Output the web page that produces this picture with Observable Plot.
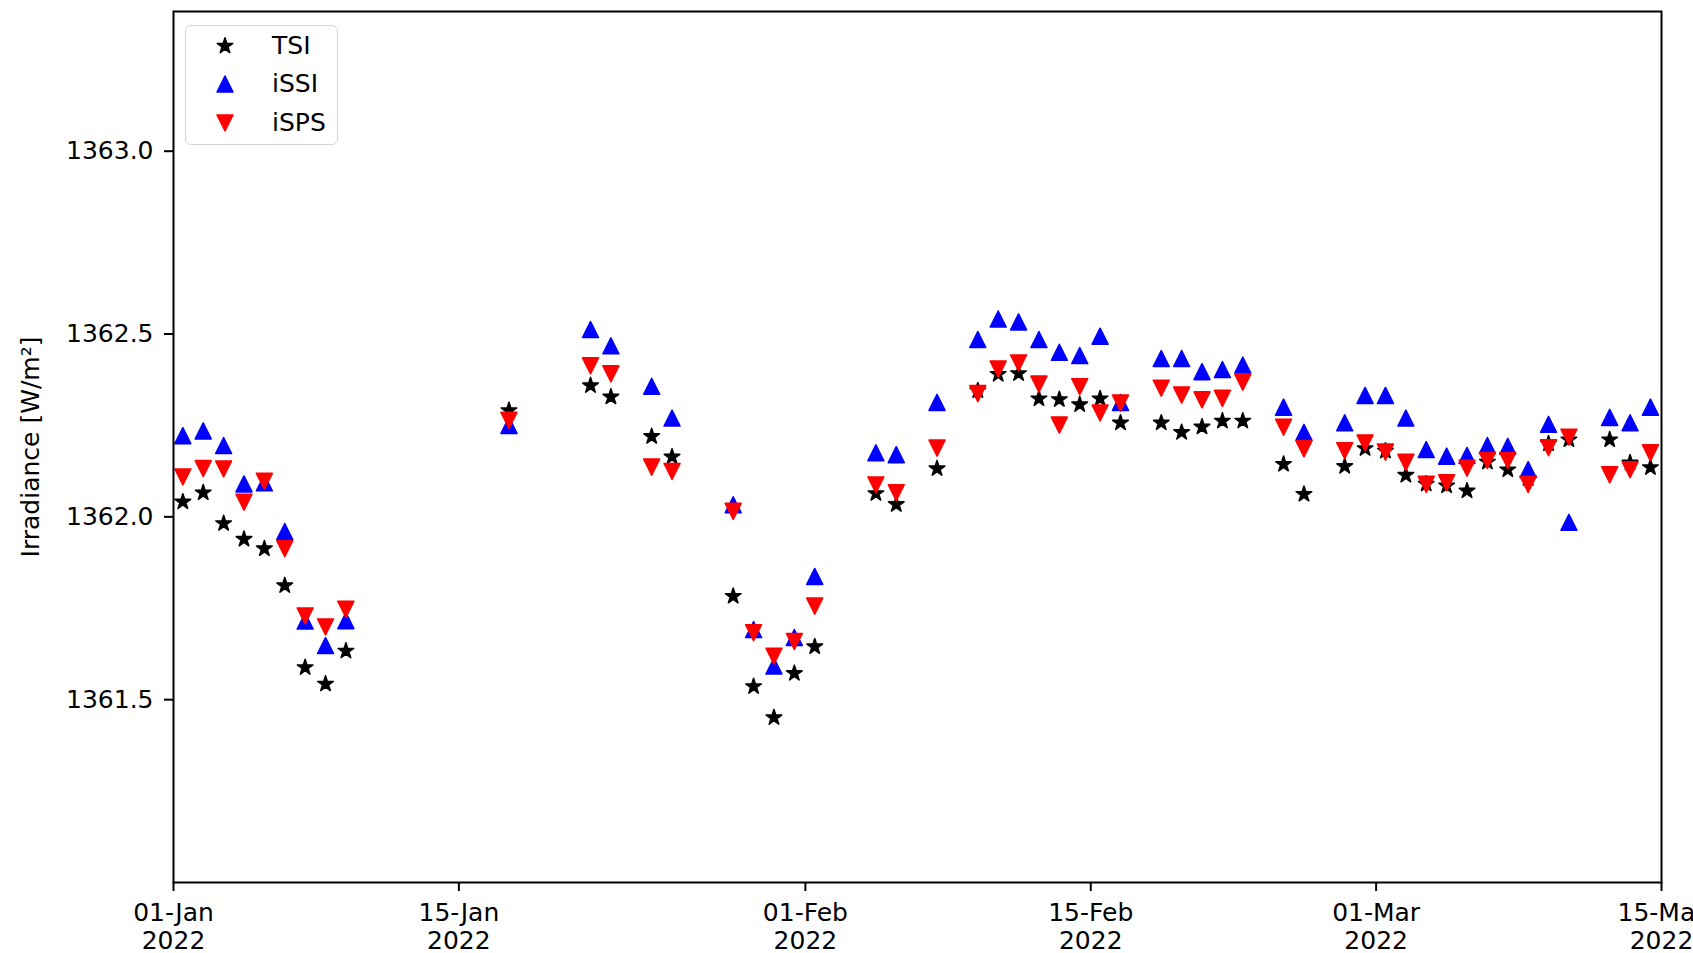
<!DOCTYPE html>
<html>
<head>
<meta charset="utf-8">
<script src="https://cdn.jsdelivr.net/npm/d3@7"></script>
<script src="https://cdn.jsdelivr.net/npm/@observablehq/plot@0.6"></script>
<style>
  html, body { margin: 0; padding: 0; background: white; overflow: hidden; }
  #wrap { position: relative; width: 1693px; height: 953px; font-family: "DejaVu Sans", sans-serif; }
  #legend { position: absolute; left: 185px; top: 25px; width: 151px; height: 118px;
    border: 1.5px solid #d4d4d4; border-radius: 6px; background: rgba(255,255,255,0.8); }
  .lg-row { position: absolute; left: 0; height: 30px; display: flex; align-items: center; }
  .lg-row svg { position: absolute; left: 28px; }
  .lg-row span { position: absolute; left: 86px; font-size: 25px; line-height: 30px; color: #000; white-space: nowrap; }
</style>
</head>
<body>
<div id="wrap"><div id="legend"></div></div>
<script>
// ---- data ----
const dates = [
  "2022-01-01","2022-01-02","2022-01-03","2022-01-04","2022-01-05","2022-01-06","2022-01-07","2022-01-08","2022-01-09",
  "2022-01-17",
  "2022-01-21","2022-01-22","2022-01-24","2022-01-25",
  "2022-01-28","2022-01-29","2022-01-30","2022-01-31","2022-02-01",
  "2022-02-04","2022-02-05","2022-02-07","2022-02-09","2022-02-10","2022-02-11","2022-02-12","2022-02-13","2022-02-14","2022-02-15","2022-02-16",
  "2022-02-18","2022-02-19","2022-02-20","2022-02-21","2022-02-22",
  "2022-02-24","2022-02-25","2022-02-27","2022-02-28","2022-03-01","2022-03-02","2022-03-03","2022-03-04","2022-03-05","2022-03-06","2022-03-07","2022-03-08","2022-03-09","2022-03-10",
  "2022-03-12","2022-03-13","2022-03-14"
];
const obsTime = "T11:00:00Z";
const tsi = [
  1362.041,1362.066,1361.982,1361.939,1361.913,1361.812,1361.588,1361.543,1361.633,
  1362.291,
  1362.359,1362.328,1362.220,1362.164,
  1361.783,1361.536,1361.451,1361.572,1361.645,
  1362.064,1362.034,1362.132,1362.345,1362.390,1362.392,1362.323,1362.321,1362.307,1362.323,1362.257,
  1362.257,1362.231,1362.246,1362.262,1362.262,
  1362.144,1362.062,1362.138,1362.187,1362.180,1362.114,1362.090,1362.085,1362.071,1362.150,1362.129,1362.105,1362.200,1362.211,
  1362.211,1362.148,1362.135
];
const issi = [
  1362.222,1362.235,1362.195,1362.090,1362.093,1361.960,1361.715,1361.648,1361.716,
  1362.250,
  1362.512,1362.468,1362.357,1362.270,
  1362.033,1361.692,1361.592,1361.670,1361.837,
  1362.175,1362.170,1362.313,1362.485,1362.541,1362.533,1362.485,1362.450,1362.441,1362.494,1362.313,
  1362.433,1362.433,1362.397,1362.403,1362.415,
  1362.300,1362.231,1362.257,1362.332,1362.332,1362.270,1362.184,1362.166,1362.168,1362.195,1362.193,1362.129,1362.253,1361.985,
  1362.272,1362.257,1362.300
];
const isps = [
  1362.109,1362.132,1362.131,1362.040,1362.097,1361.913,1361.729,1361.699,1361.747,
  1362.264,
  1362.413,1362.391,1362.136,1362.124,
  1362.015,1361.683,1361.619,1361.659,1361.756,
  1362.087,1362.066,1362.188,1362.337,1362.404,1362.421,1362.363,1362.251,1362.356,1362.284,1362.311,
  1362.352,1362.333,1362.320,1362.324,1362.368,
  1362.245,1362.186,1362.181,1362.202,1362.177,1362.149,1362.089,1362.093,1362.133,1362.154,1362.154,1362.089,1362.189,1362.218,
  1362.115,1362.129,1362.175
];
const seriesNames = ["TSI", "iSSI", "iSPS"];
const seriesColors = ["black", "blue", "red"];
const xTicks = ["2022-01-01","2022-01-15","2022-02-01","2022-02-15","2022-03-01","2022-03-15"];
const yTicks = [1361.5, 1362.0, 1362.5, 1363.0];
const yLabel = "Irradiance [W/m²]";

// ---- marker shapes (matplotlib-like) ----
const triUp = { draw(ctx, size) { const r = Math.sqrt(size / Math.PI);
  ctx.moveTo(0, -r); ctx.lineTo(r, r); ctx.lineTo(-r, r); ctx.closePath(); } };
const triDown = { draw(ctx, size) { const r = Math.sqrt(size / Math.PI);
  ctx.moveTo(0, r); ctx.lineTo(r, -r); ctx.lineTo(-r, -r); ctx.closePath(); } };
const star = { draw(ctx, size) { const R = Math.sqrt(size / Math.PI); const ri = R * 0.381966;
  for (let i = 0; i < 10; i++) { const a = -Math.PI / 2 + i * Math.PI / 5; const rr = i % 2 ? ri : R;
    const x = rr * Math.cos(a), y = rr * Math.sin(a); if (i === 0) ctx.moveTo(x, y); else ctx.lineTo(x, y); }
  ctx.closePath(); } };
const symbols = [star, triUp, triDown];
const radii = [8.2, 8, 8];

const rows = dates.map((d, i) => ({date: new Date(d + obsTime), TSI: tsi[i], iSSI: issi[i], iSPS: isps[i]}));

const dotMarks = seriesNames.map((name, k) => Plot.dot(rows, {
  x: "date", y: name, symbol: symbols[k], r: radii[k],
  fill: seriesColors[k], stroke: seriesColors[k], strokeWidth: 1.5, strokeLinejoin: "round"
}));

const chart = Plot.plot({
  width: 1693, height: 953,
  marginLeft: 173, marginRight: 32, marginTop: 11, marginBottom: 71,
  style: {fontFamily: "DejaVu Sans, sans-serif", background: "white", color: "black"},
  x: {type: "utc", domain: [new Date("2022-01-01T00:00:00Z"), new Date("2022-03-15T00:00:00Z")]},
  y: {domain: [1361.0, 1363.382]},
  marks: [
    ...dotMarks,
    Plot.frame({stroke: "black", strokeWidth: 2}),
    Plot.axisY({ticks: yTicks, tickFormat: d3.format(".1f"), tickSize: 9, tickPadding: 11,
      fontSize: 25, strokeWidth: 2, label: null}),
    Plot.axisX({ticks: xTicks.map(t => new Date(t + "T00:00:00Z")), tickFormat: d3.utcFormat("%d-%b\n%Y"),
      tickSize: 9, tickPadding: 10, fontSize: 25, lineHeight: 1.1, strokeWidth: 2, label: null}),
    Plot.text([yLabel], {frameAnchor: "left", dx: -143, rotate: -90, fontSize: 25,
      textAnchor: "middle", lineAnchor: "middle", fill: "black"})
  ]
});
document.getElementById("wrap").prepend(chart);

// ---- legend ----
const legend = document.getElementById("legend");
const shapePaths = [
  () => { const p = d3.path(); star.draw(p, Math.PI * 8.2 * 8.2); return p.toString(); },
  () => { const p = d3.path(); triUp.draw(p, Math.PI * 8 * 8); return p.toString(); },
  () => { const p = d3.path(); triDown.draw(p, Math.PI * 8 * 8); return p.toString(); }
];
const rowTops = [5, 43, 82];
seriesNames.forEach((name, k) => {
  const row = document.createElement("div");
  row.className = "lg-row";
  row.style.top = rowTops[k] + "px";
  row.innerHTML = `<svg width="22" height="30" viewBox="-11 -15 22 30"><path d="${shapePaths[k]()}" fill="${seriesColors[k]}" stroke="${seriesColors[k]}" stroke-width="1.5" stroke-linejoin="round"/></svg><span>${name}</span>`;
  legend.appendChild(row);
});
</script>
</body>
</html>
